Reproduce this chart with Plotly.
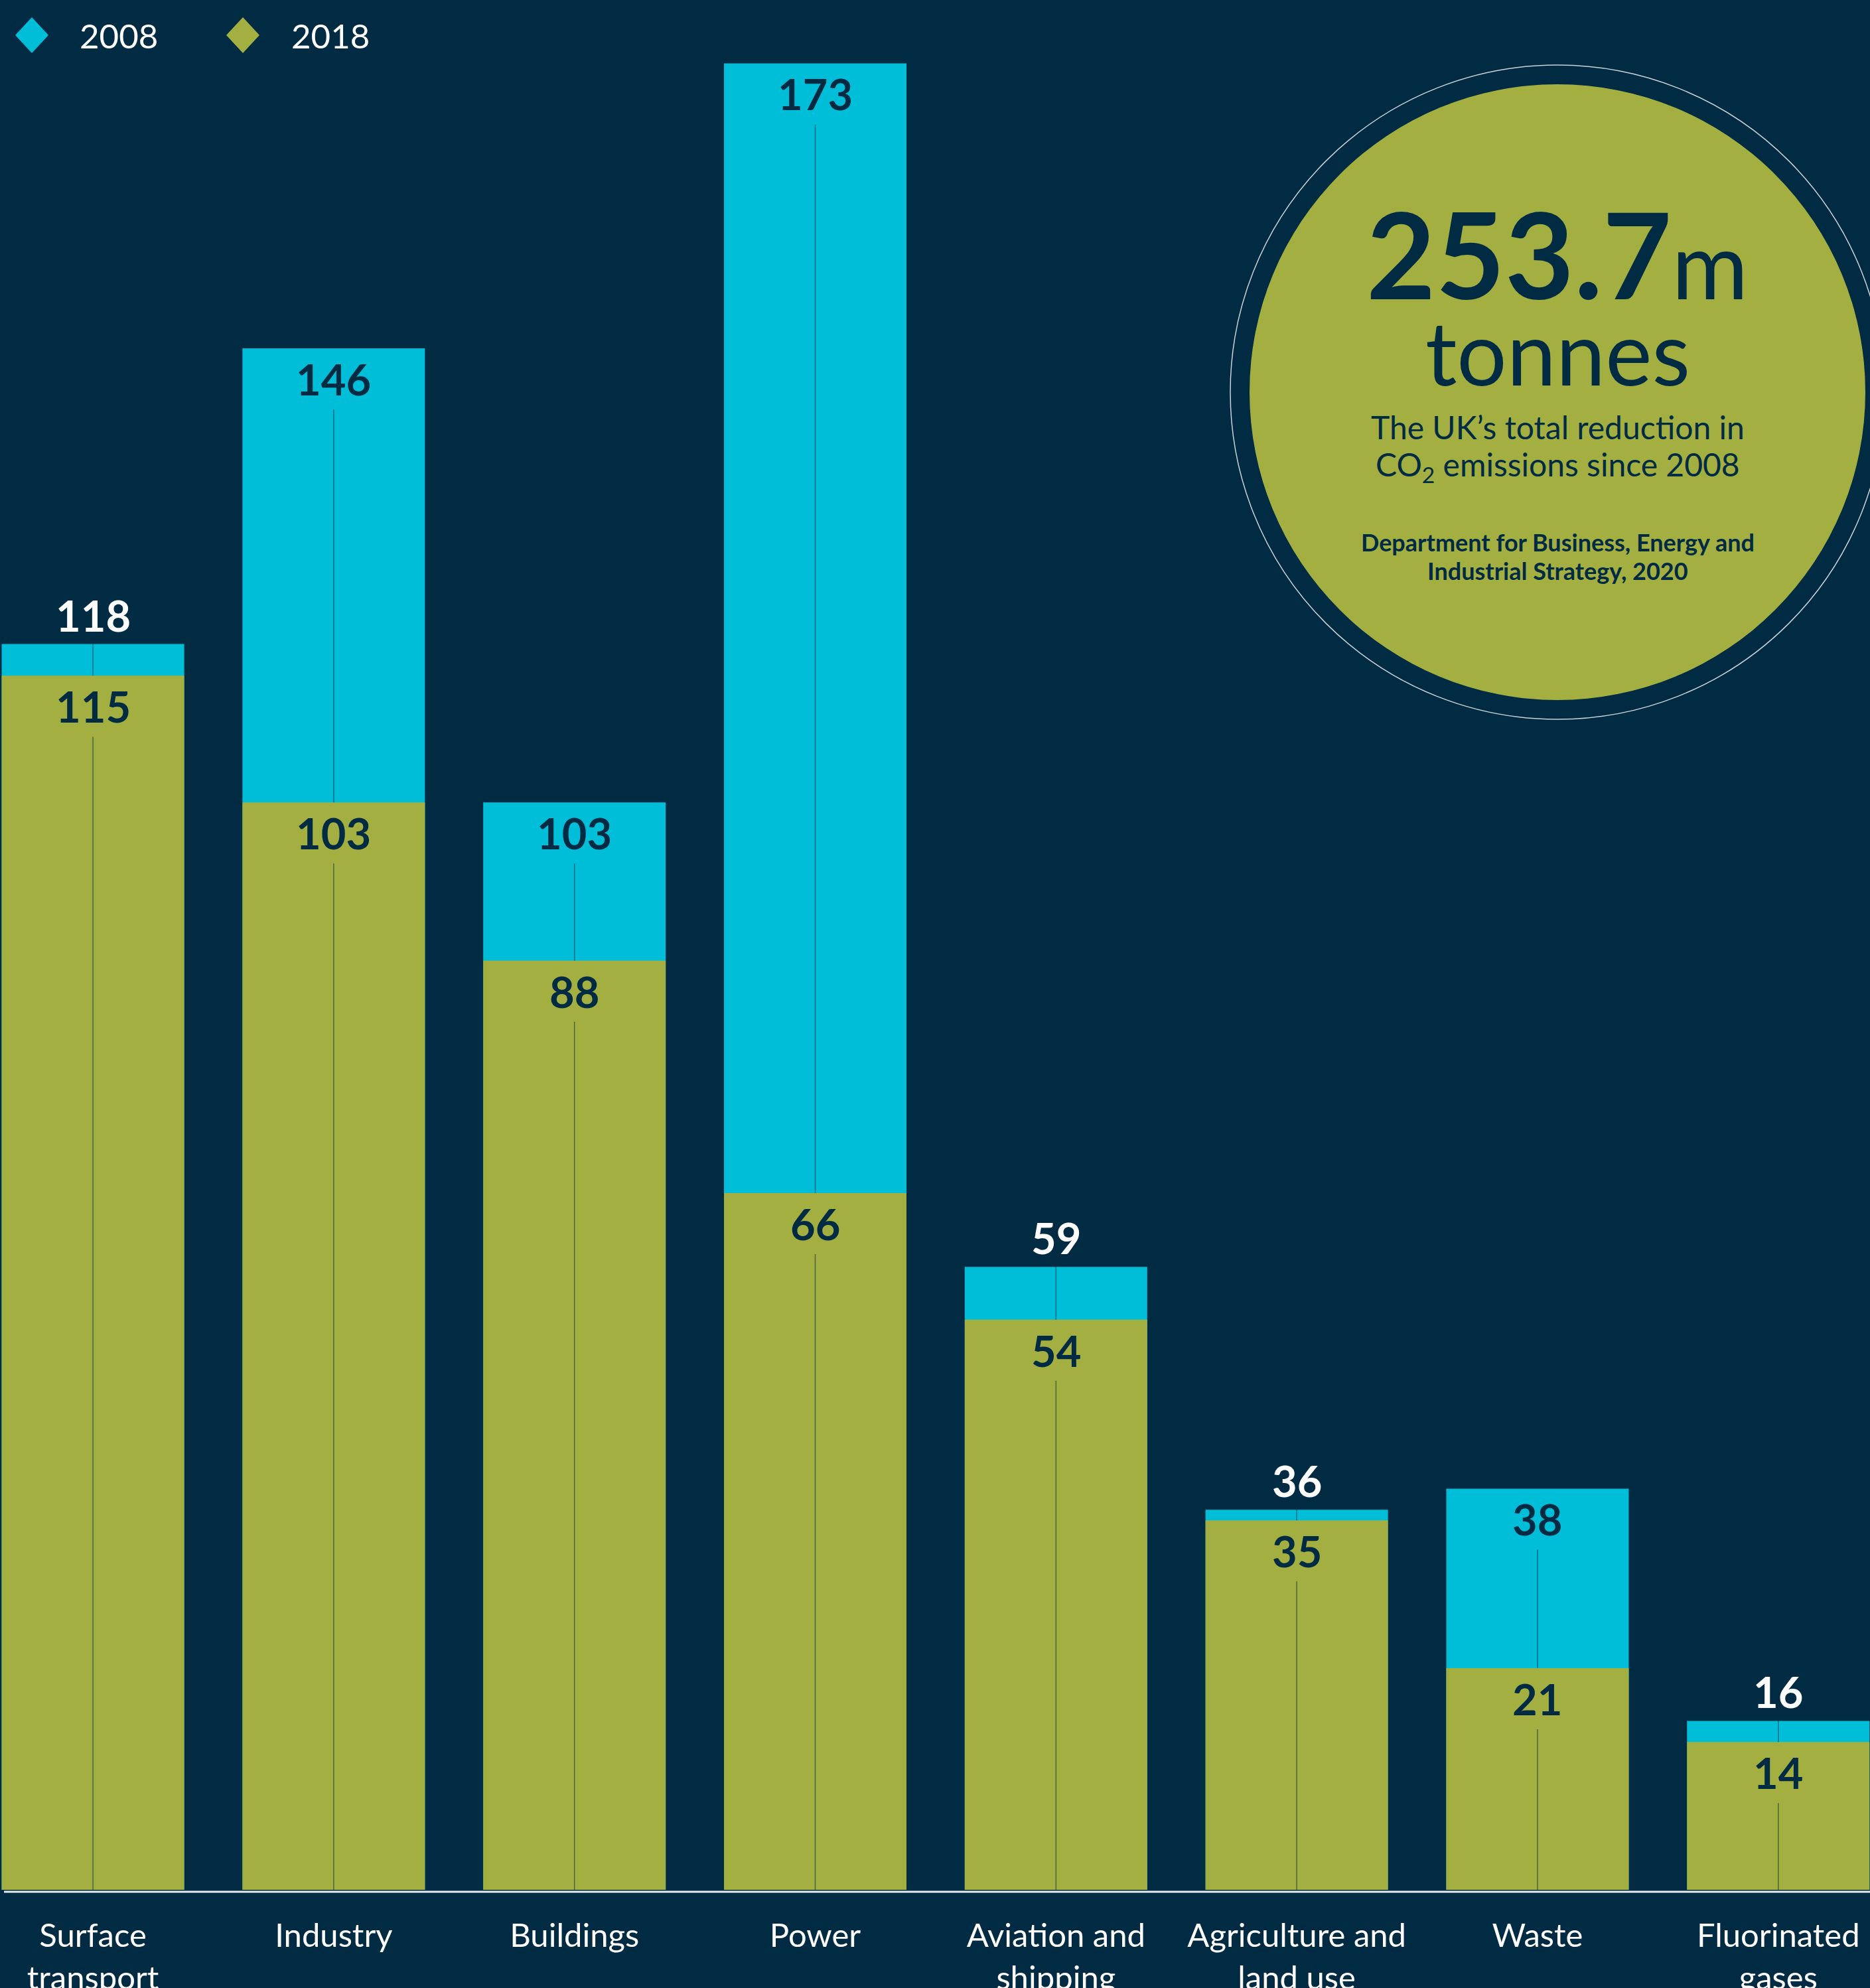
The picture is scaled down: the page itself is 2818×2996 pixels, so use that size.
import plotly.graph_objects as go

# ---------------- data ----------------
categories = ["Surface<br>transport", "Industry", "Buildings", "Power",
              "Aviation and<br>shipping", "Agriculture and<br>land use",
              "Waste", "Fluorinated<br>gases"]
values_2008 = [118, 146, 103, 173, 59, 36, 38, 16]
values_2018 = [115, 103, 88, 66, 54, 35, 21, 14]
series_names = ["2008", "2018"]

headline_value = "253.7"
headline_unit = "m"
headline_word = "tonnes"
headline_desc = ["The UK’s total reduction in", "CO<sub>2</sub> emissions since 2008"]
source_lines = ["Department for Business, Energy and", "Industrial Strategy, 2020"]

# ---------------- style ----------------
BG = "#012A43"
CYAN = "#00BED7"
OLIVE = "#A4AF42"
NAVY = "#012A43"
WHITE = "#FFFFFF"
FONT = "Lato"

W, H = 2818, 2996
M_B = 148
PLOT_H = H - M_B
Y_MAX = 179.0
PX = PLOT_H / Y_MAX          # pixels per data unit
GAP_PX = 92                  # line gap beneath an inside label
OUT_THRESH_PX = 100          # if the 2008 step is thinner than this, label goes outside
X_RANGE = [-0.386, 7.381]

fig = go.Figure()

fig.add_trace(go.Bar(x=categories, y=values_2008, name=series_names[0],
                     marker=dict(color=CYAN, line=dict(width=0)),
                     width=0.758, showlegend=False, hoverinfo="skip"))
fig.add_trace(go.Bar(x=categories, y=values_2018, name=series_names[1],
                     marker=dict(color=OLIVE, line=dict(width=0)),
                     width=0.758, showlegend=False, hoverinfo="skip"))

# centre guide lines (broken around inside labels)
lx, ly = [], []
gap_units = GAP_PX / PX
outside_flags = []
for c, a, b in zip(categories, values_2008, values_2018):
    outside = (a - b) * PX < OUT_THRESH_PX
    outside_flags.append(outside)
    top1 = a if outside else a - gap_units
    lx += [c, c, None, c, c, None]
    ly += [top1, b, None, b - gap_units, 0, None]
fig.add_trace(go.Scatter(x=lx, y=ly, mode="lines",
                         line=dict(color="rgba(1,42,67,0.55)", width=1.5),
                         showlegend=False, hoverinfo="skip", connectgaps=False))

annotations = []
lab_font = dict(family=FONT, size=65, weight="bold")
for c, a, b, outside in zip(categories, values_2008, values_2018, outside_flags):
    annotations.append(dict(x=c, y=a, xref="x", yref="y", text=str(a), showarrow=False,
                            yanchor="middle", xanchor="center",
                            yshift=44 if outside else -46,
                            font=dict(lab_font, color=WHITE if outside else NAVY)))
    annotations.append(dict(x=c, y=b, xref="x", yref="y", text=str(b), showarrow=False,
                            yanchor="middle", xanchor="center", yshift=-46,
                            font=dict(lab_font, color=NAVY)))

def px_x(p):
    return p / W

def px_y(p):
    return 1 - p / PLOT_H

shapes = []
# legend diamonds + labels
legend_items = [(48, 118, CYAN, series_names[0]), (366, 437, OLIVE, series_names[1])]
for cx, tx, col, name in legend_items:
    shapes.append(dict(type="path", xref="paper", yref="paper",
                       xsizemode="pixel", ysizemode="pixel",
                       xanchor=px_x(cx), yanchor=px_y(53),
                       path="M 0,27 L 25,0 L 0,-27 L -25,0 Z",
                       fillcolor=col, line=dict(width=0)))
    annotations.append(dict(x=px_x(tx), y=px_y(53), xref="paper", yref="paper",
                            text=name, showarrow=False, xanchor="left", yanchor="middle",
                            font=dict(family=FONT, size=51, color=WHITE)))

# circle call-out
CX, CY = 2347, 591
shapes.append(dict(type="circle", xref="paper", yref="paper",
                   xsizemode="pixel", ysizemode="pixel",
                   xanchor=px_x(CX), yanchor=px_y(CY),
                   x0=-493, x1=493, y0=-493, y1=493,
                   line=dict(color="#C9D2D6", width=1.5), fillcolor="rgba(0,0,0,0)"))
shapes.append(dict(type="circle", xref="paper", yref="paper",
                   xsizemode="pixel", ysizemode="pixel",
                   xanchor=px_x(CX), yanchor=px_y(CY),
                   x0=-464, x1=464, y0=-464, y1=464,
                   line=dict(width=0), fillcolor=OLIVE))

# baseline
shapes.append(dict(type="line", xref="paper", yref="paper",
                   x0=px_x(6), x1=1, y0=px_y(2851), y1=px_y(2851),
                   line=dict(color="#E6ECEE", width=3)))

def circ_text(text, cy, size, weight="normal"):
    return dict(x=px_x(CX), y=px_y(cy), xref="paper", yref="paper", text=text,
                showarrow=False, xanchor="center", yanchor="middle",
                font=dict(family=FONT, size=size, color=NAVY, weight=weight))

annotations.append(circ_text(f"<b>{headline_value}</b><span style='font-size:140px'>{headline_unit}</span>", 381, 180))
annotations.append(circ_text(headline_word, 529, 133))
annotations.append(circ_text(headline_desc[0], 643, 48))
annotations.append(circ_text(headline_desc[1], 703, 48))
annotations.append(circ_text(source_lines[0], 817, 36, "bold"))
annotations.append(circ_text(source_lines[1], 860, 36, "bold"))

fig.update_layout(
    width=W, height=H,
    margin=dict(l=0, r=0, t=0, b=M_B, pad=0),
    paper_bgcolor=BG, plot_bgcolor=BG,
    barmode="overlay",
    showlegend=False,
    hovermode=False,
    annotations=annotations,
    shapes=shapes,
    xaxis=dict(range=X_RANGE, showgrid=False, zeroline=False, showline=False,
               ticks="", automargin=False, fixedrange=True, ticklabelstandoff=36,
               tickfont=dict(family=FONT, size=49, color=WHITE)),
    yaxis=dict(range=[0, Y_MAX], showgrid=False, zeroline=False, showline=False,
               showticklabels=False, ticks="", automargin=False, fixedrange=True),
)

fig.write_html("out.html", config={"displayModeBar": False},
               post_script="document.body.style.margin='0';document.body.style.overflow='hidden';")
